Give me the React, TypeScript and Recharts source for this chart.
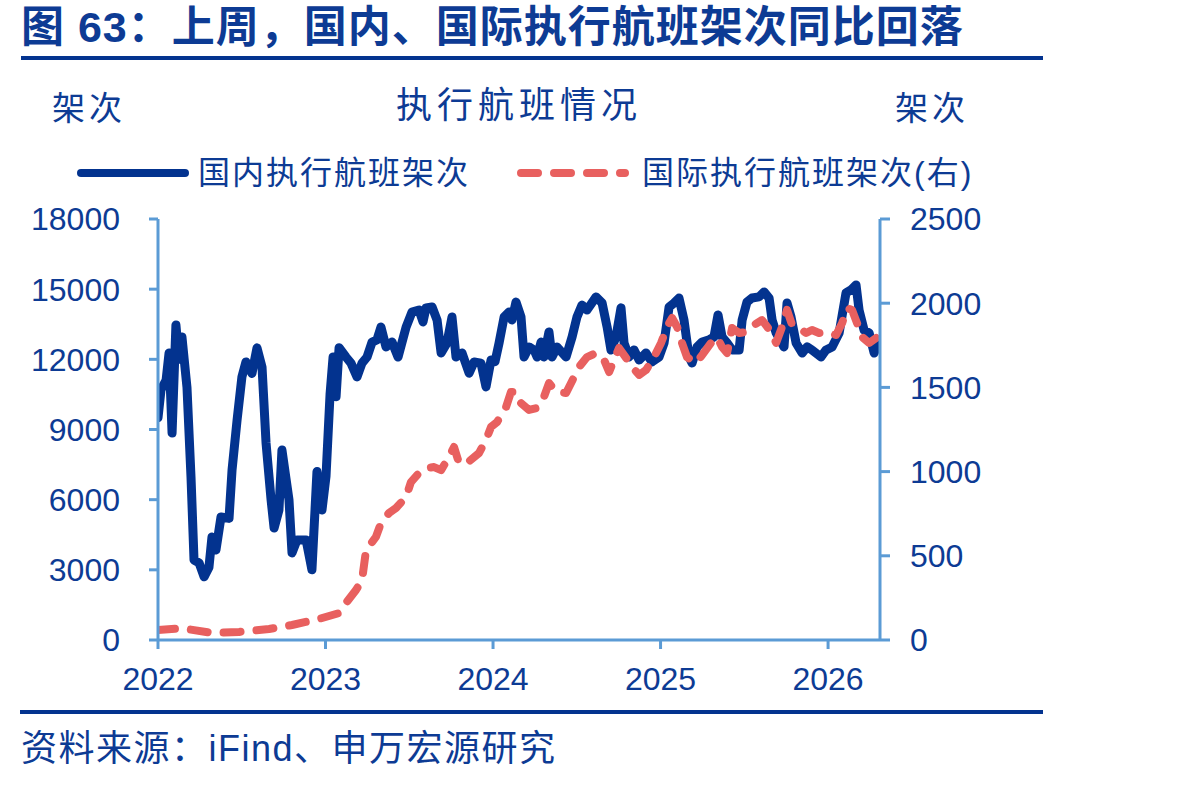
import React from "react";
import { LineChart, Line, XAxis, YAxis } from "recharts";

// weekly samples, x in decimal years
const domT = [
  2022.0, 2022.018, 2022.048, 2022.066, 2022.084, 2022.107, 2022.125, 2022.143, 2022.173, 2022.197,
  2022.215, 2022.245, 2022.275, 2022.304, 2022.322, 2022.346, 2022.376, 2022.424, 2022.442, 2022.472,
  2022.501, 2022.525, 2022.561, 2022.591, 2022.621, 2022.645, 2022.675, 2022.693, 2022.722, 2022.74,
  2022.782, 2022.8, 2022.83, 2022.884, 2022.919, 2022.949, 2022.979, 2023.003, 2023.027, 2023.045,
  2023.063, 2023.081, 2023.122, 2023.152, 2023.188, 2023.218, 2023.248, 2023.278, 2023.307, 2023.331,
  2023.361, 2023.397, 2023.433, 2023.481, 2023.516, 2023.558, 2023.582, 2023.6, 2023.636, 2023.666,
  2023.69, 2023.725, 2023.755, 2023.779, 2023.815, 2023.857, 2023.887, 2023.928, 2023.958, 2023.988,
  2024.012, 2024.036, 2024.066, 2024.096, 2024.113, 2024.137, 2024.167, 2024.185, 2024.215, 2024.245,
  2024.263, 2024.287, 2024.304, 2024.334, 2024.352, 2024.382, 2024.436, 2024.472, 2024.501, 2024.531,
  2024.561, 2024.615, 2024.651, 2024.681, 2024.704, 2024.734, 2024.764, 2024.782, 2024.812, 2024.842,
  2024.872, 2024.913, 2024.949, 2024.991, 2025.021, 2025.051, 2025.081, 2025.11, 2025.14, 2025.17,
  2025.188, 2025.218, 2025.248, 2025.29, 2025.319, 2025.343, 2025.367, 2025.397, 2025.427, 2025.469,
  2025.487, 2025.516, 2025.546, 2025.588, 2025.618, 2025.648, 2025.666, 2025.69, 2025.737, 2025.755,
  2025.779, 2025.809, 2025.845, 2025.875, 2025.904, 2025.958, 2025.988, 2026.024, 2026.066, 2026.107,
  2026.137, 2026.167, 2026.185, 2026.215, 2026.245, 2026.275, 2026.299,
];
const domV = [
  9500, 10700, 11100, 12270, 8850, 13470, 12000, 12960, 10800, 6970,
  3420, 3300, 2700, 3100, 4400, 3850, 5260, 5200, 7270, 9400,
  11250, 11890, 11400, 12490, 11670, 8420, 5990, 4790, 5560, 8120,
  5990, 3720, 4280, 4280, 3000, 7200, 5560, 7000, 10500, 12100,
  10400, 12500, 12100, 11840, 11250, 11840, 12100, 12740, 12830, 13380,
  12530, 12740, 12100, 13380, 14020, 14110, 13600, 14200, 14240, 13680,
  12270, 12700, 13810, 12100, 12270, 11410, 11890, 11840, 10820, 11970,
  11900, 12700, 13810, 14020, 13680, 14450, 13810, 12100, 12530, 12400,
  12100, 12740, 12100, 13170, 12100, 12530, 12100, 12960, 13810, 14320,
  14110, 14670, 14410, 13380, 12400, 12960, 14200, 12700, 12100, 12400,
  11970, 12270, 11890, 12100, 12700, 14240, 14410, 14620, 13680, 12100,
  11840, 12530, 12740, 12830, 12960, 13900, 12960, 12700, 12400, 12400,
  13680, 14450, 14620, 14670, 14880, 14620, 13680, 13130, 12530, 14410,
  13810, 12700, 12270, 12530, 12400, 12100, 12400, 12530, 13130, 14840,
  14970, 15180, 14110, 13250, 13130, 12270, 12700,
];

const intlT = [
  2022.0, 2022.143, 2022.322, 2022.484, 2022.663, 2022.8, 2022.961, 2023.081, 2023.122, 2023.182,
  2023.218, 2023.242, 2023.301, 2023.331, 2023.379, 2023.421, 2023.481, 2023.51, 2023.558, 2023.6,
  2023.648, 2023.69, 2023.737, 2023.767, 2023.797, 2023.845, 2023.916, 2023.958, 2023.988, 2024.024,
  2024.078, 2024.107, 2024.137, 2024.167, 2024.215, 2024.263, 2024.304, 2024.334, 2024.376, 2024.436,
  2024.484, 2024.513, 2024.561, 2024.615, 2024.663, 2024.693, 2024.722, 2024.752, 2024.794, 2024.83,
  2024.872, 2024.913, 2024.961, 2025.003, 2025.039, 2025.069, 2025.099, 2025.128, 2025.158, 2025.212,
  2025.248, 2025.301, 2025.337, 2025.367, 2025.397, 2025.427, 2025.469, 2025.51, 2025.558, 2025.606,
  2025.66, 2025.69, 2025.725, 2025.755, 2025.785, 2025.827, 2025.869, 2025.904, 2025.946, 2025.994,
  2026.048, 2026.084, 2026.113, 2026.143, 2026.173, 2026.203, 2026.245, 2026.287,
];
const intlV = [
  60, 70, 42, 48, 65, 89, 125, 160, 220, 297,
  356, 534, 612, 695, 754, 784, 849, 938, 992, 1021,
  1027, 1009, 1087, 1146, 1051, 1051, 1110, 1188, 1265, 1294,
  1384, 1473, 1473, 1407, 1366, 1378, 1443, 1526, 1473, 1467,
  1562, 1621, 1680, 1704, 1663, 1591, 1663, 1734, 1675, 1621,
  1574, 1603, 1680, 1764, 1860, 1912, 1859, 1764, 1680, 1645,
  1692, 1764, 1799, 1740, 1704, 1853, 1823, 1829, 1871, 1900,
  1829, 1764, 1859, 1960, 1871, 1853, 1823, 1841, 1823, 1829,
  1811, 1882, 1971, 1960, 1882, 1799, 1764, 1793,
];

const yearTicks = [2022, 2023, 2024, 2025, 2026];
const leftTicks = [0, 3000, 6000, 9000, 12000, 15000, 18000];
const rightTicks = [0, 500, 1000, 1500, 2000, 2500];

type Row = { t: number; dom?: number; intl?: number };

const rows: Row[] = (() => {
  const m = new Map<number, Row>();
  domT.forEach((t, i) => {
    const r = m.get(t) ?? { t };
    r.dom = domV[i];
    m.set(t, r);
  });
  intlT.forEach((t, i) => {
    const r = m.get(t) ?? { t };
    r.intl = intlV[i];
    m.set(t, r);
  });
  return [...m.values()].sort((a, b) => a.t - b.t);
})();

const BLUE = "#03338f";
const TEXT = "#0d3b94";
const RED = "#e8605f";
const AXIS = "#5b9bd5";
const FONT = "'Liberation Sans', 'Noto Sans CJK SC', sans-serif";

const tickStyle = { fill: TEXT, fontSize: 32, fontFamily: FONT };

function Label({ x, y, size, ls = 0, bold = false, children }: any) {
  return (
    <div
      style={{
        position: "absolute",
        left: x,
        top: y,
        fontSize: size,
        letterSpacing: ls,
        fontWeight: bold ? 700 : 400,
        color: TEXT,
        lineHeight: 1,
        whiteSpace: "nowrap",
        fontFamily: FONT,
      }}
    >
      {children}
    </div>
  );
}

export default function App() {
  return (
    <div
      style={{
        position: "absolute",
        left: 0,
        top: 0,
        width: 1182,
        height: 787,
        background: "#fff",
        overflow: "hidden",
      }}
    >
      <Label x={21} y={6} size={43} ls={1} bold>
        图 63：上周，国内、国际执行航班架次同比回落
      </Label>
      <div style={{ position: "absolute", left: 21, top: 56, width: 1022, height: 4, background: BLUE }} />

      <Label x={52} y={92} size={33} ls={4}>架次</Label>
      <Label x={396} y={88} size={36} ls={5}>执行航班情况</Label>
      <Label x={895} y={92} size={33} ls={4}>架次</Label>

      {/* legend */}
      <svg style={{ position: "absolute", left: 0, top: 150 }} width={700} height={50}>
        <line x1={81} y1={23} x2={185} y2={23} stroke={BLUE} strokeWidth={8} strokeLinecap="round" />
        <line
          x1={521}
          y1={23}
          x2={625}
          y2={23}
          stroke={RED}
          strokeWidth={8}
          strokeLinecap="round"
          strokeDasharray="17 16"
        />
      </svg>
      <Label x={198} y={157} size={32} ls={2}>国内执行航班架次</Label>
      <Label x={642} y={157} size={32} ls={2}>国际执行航班架次(右)</Label>

      <div style={{ position: "absolute", left: 0, top: 0 }}>
        <LineChart
          width={1182}
          height={787}
          data={rows}
          margin={{ top: 219, right: 202, bottom: 97, left: 0 }}
        >
          <XAxis
            dataKey="t"
            type="number"
            domain={[2022, 2026.31]}
            ticks={yearTicks}
            tickFormatter={(v: number) => String(Math.round(v))}
            stroke={AXIS}
            strokeWidth={3}
            tickSize={9}
            tickMargin={18}
            tick={tickStyle}
            height={50}
            allowDataOverflow
          />
          <YAxis
            yAxisId="l"
            domain={[0, 18000]}
            ticks={leftTicks}
            stroke={AXIS}
            strokeWidth={3}
            tickSize={9}
            tickMargin={29}
            tick={tickStyle}
            width={158}
            interval={0}
          />
          <YAxis
            yAxisId="r"
            orientation="right"
            domain={[0, 2500]}
            ticks={rightTicks}
            stroke={AXIS}
            strokeWidth={3}
            tickSize={10}
            tickMargin={20}
            tick={{ ...tickStyle, textAnchor: "start" }}
            width={100}
            interval={0}
          />
          <Line
            yAxisId="l"
            dataKey="dom"
            type="linear"
            stroke={BLUE}
            strokeWidth={9}
            strokeLinejoin="round"
            strokeLinecap="round"
            dot={false}
            activeDot={false}
            connectNulls
            isAnimationActive={false}
          />
          <Line
            yAxisId="r"
            dataKey="intl"
            type="linear"
            stroke={RED}
            strokeWidth={8}
            strokeLinecap="round"
            strokeLinejoin="round"
            strokeDasharray="17 16"
            dot={false}
            activeDot={false}
            connectNulls
            isAnimationActive={false}
          />
        </LineChart>
      </div>

      <div style={{ position: "absolute", left: 20, top: 710, width: 1023, height: 4, background: BLUE }} />
      <Label x={21} y={731} size={36} ls={1.5}>资料来源：iFind、申万宏源研究</Label>
    </div>
  );
}
